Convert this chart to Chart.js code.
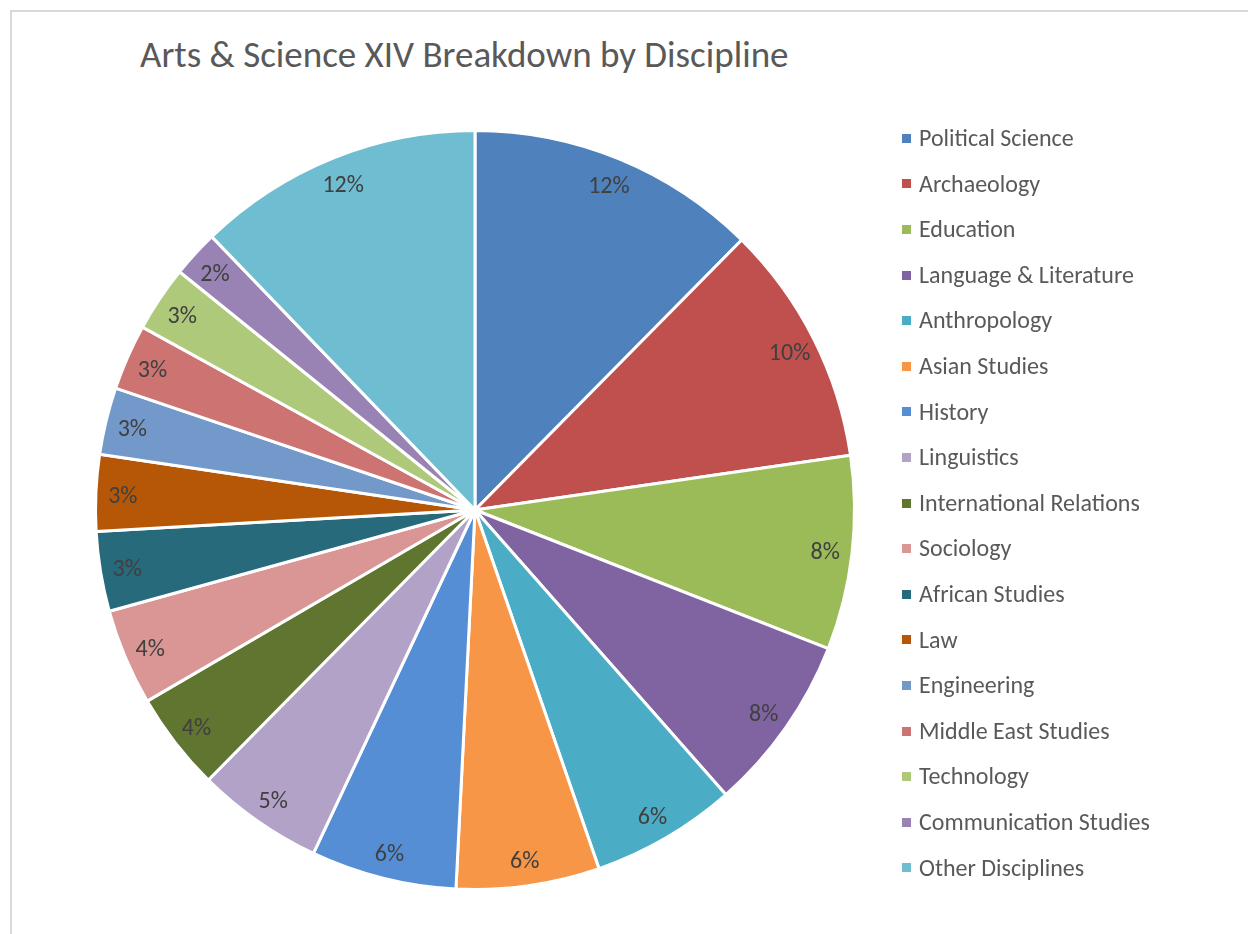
<!DOCTYPE html>
<html>
<head>
<meta charset="utf-8">
<script src="https://cdn.jsdelivr.net/npm/chart.js@4.4.1/dist/chart.umd.min.js"></script>
<style>
    html, body { margin: 0; padding: 0; background: #fff; }
    body { width: 1248px; height: 934px; position: relative; overflow: hidden; font-family: Carlito, Lato, 'Open Sans', sans-serif; }
    #frame { position: absolute; left: 10px; top: 10px; width: 1260px; height: 960px; border: 2px solid #d9d9d9; box-sizing: border-box; }
    #title { position: absolute; left: 140px; top: 33px; font-size: 37px; color: #595959; white-space: nowrap; line-height: 44px; }
    #chartBox { position: absolute; left: 0; top: 0; width: 1248px; height: 934px; }
    #legend { position: absolute; left: 902px; top: 0; margin: 0; padding: 0; list-style: none; }
    #legend li { position: absolute; left: 0; height: 30px; line-height: 30px; white-space: nowrap; font-size: 24px; color: #595959; }
    #legend span { display: inline-block; width: 9px; height: 9px; margin-right: 8px; vertical-align: middle; position: relative; top: -2px; }
</style>
</head>
<body>
<div id="frame"></div>
<div id="title">Arts &amp; Science XIV Breakdown by Discipline</div>
<div id="chartBox"><canvas id="pie" width="1248" height="934"></canvas></div>
<ul id="legend"></ul>
<script>
const disciplines = [
    'Political Science', 'Archaeology', 'Education', 'Language & Literature',
    'Anthropology', 'Asian Studies', 'History', 'Linguistics',
    'International Relations', 'Sociology', 'African Studies', 'Law',
    'Engineering', 'Middle East Studies', 'Technology', 'Communication Studies',
    'Other Disciplines'
];

// share of entries (percent)
const shares = [12.4, 10.3, 8.25, 7.55, 6.2, 6.1, 6.2, 5.4, 4.2, 4.1, 3.4, 3.25, 2.85, 2.8, 2.8, 2.0, 12.2];

const sliceColors = [
    '#4f81bd', '#c0504d', '#9bbb59', '#8064a2', '#4bacc6', '#f79646',
    '#558ed5', '#b3a2c7', '#5f7530', '#d99694', '#276a7c', '#b65708',
    '#7299ca', '#cd7371', '#afc97a', '#9983b5', '#6fbdd1'
];

const LABEL_COLOR = '#404040';

// percent labels near the outer edge of each slice
const insideEndLabels = {
    id: 'insideEndLabels',
    afterDatasetsDraw(chart) {
        const ctx = chart.ctx;
        const meta = chart.getDatasetMeta(0);
        const total = shares.reduce((a, b) => a + b, 0);
        ctx.save();
        ctx.font = '24px Carlito, Lato, sans-serif';
        ctx.fillStyle = LABEL_COLOR;
        ctx.textAlign = 'center';
        ctx.textBaseline = 'middle';
        meta.data.forEach((arc, i) => {
            const { x, y, startAngle, endAngle, outerRadius } = arc.getProps(['x', 'y', 'startAngle', 'endAngle', 'outerRadius'], true);
            const mid = (startAngle + endAngle) / 2;
            const r = outerRadius - 27;
            const text = `${Math.round(shares[i] / total * 100)}%`;
            ctx.fillText(text, x + Math.cos(mid) * r, y + Math.sin(mid) * r + 3);
        });
        ctx.restore();
    }
};

new Chart(document.getElementById('pie'), {
    type: 'pie',
    data: {
        labels: disciplines,
        datasets: [{
            data: shares,
            backgroundColor: sliceColors,
            borderColor: '#ffffff',
            borderWidth: 3,
            hoverOffset: 0,
            offset: 0
        }]
    },
    options: {
        responsive: false,
        animation: false,
        layout: { padding: { left: 93, right: 391, top: 129, bottom: 43 } },
        plugins: {
            legend: { display: false },
            tooltip: { enabled: false }
        }
    },
    plugins: [insideEndLabels]
});

const legendEl = document.getElementById('legend');
disciplines.forEach((name, i) => {
    const li = document.createElement('li');
    li.style.top = `${138 + i * 45.6 - 15}px`;
    li.innerHTML = `<span style="background:${sliceColors[i]}"></span>${name.replace('&', '&amp;')}`;
    legendEl.appendChild(li);
});
</script>
</body>
</html>
